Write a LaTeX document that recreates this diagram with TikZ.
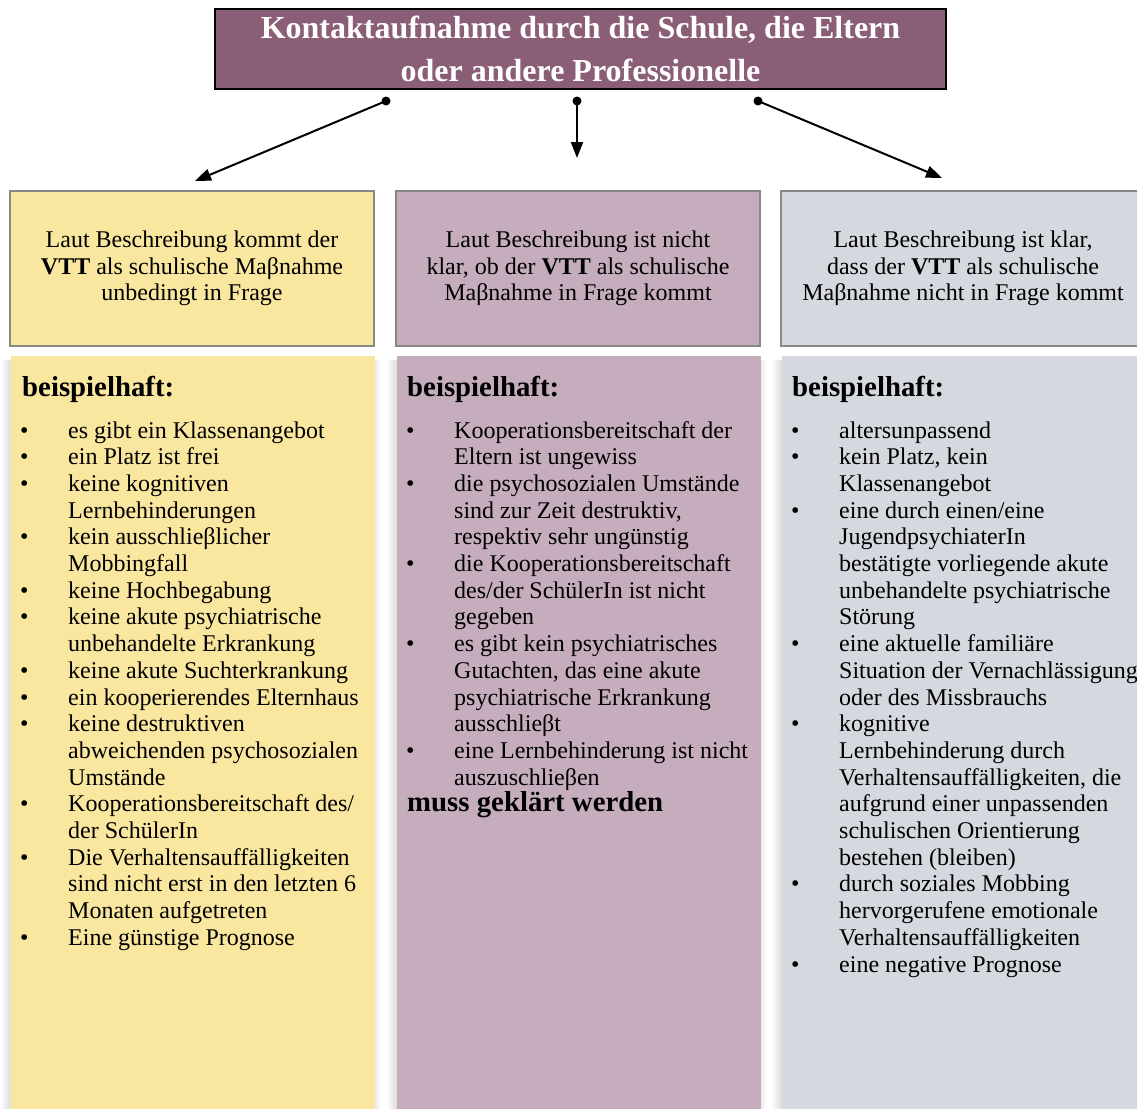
\documentclass[tikz,border=0pt]{standalone}
\usepackage{fontspec}
\setmainfont{Liberation Serif}
\usetikzlibrary{arrows.meta}
\definecolor{titlefill}{RGB}{139,94,120}
\definecolor{yelfill}{RGB}{249,231,159}
\definecolor{purfill}{RGB}{197,173,189}
\definecolor{grefill}{RGB}{214,216,224}
\definecolor{boxgray}{RGB}{136,136,136}
\newcommand\myitem[1]{\textbullet & #1\\}
\newcommand\mycont[1]{ & #1\\}
\begin{document}
\begin{tikzpicture}[x=1pt,y=-1pt,
  titlebox/.style={draw=black, line width=2pt, fill=titlefill, text=white,
    minimum width=731pt, minimum height=80pt, inner sep=0pt, align=center,
    font=\fontsize{32}{43}\selectfont\bfseries},
  upbox/.style={draw=boxgray, line width=2pt, minimum width=364pt, minimum height=155pt,
    inner sep=0pt, align=center, font=\fontsize{24}{26.7}\selectfont},
  sideshade/.style={left color=white, right color=black!14},
  dot/.style={circle, fill=black, inner sep=0pt, minimum size=9pt},
  conn/.style={line width=2pt, -{Triangle[length=16pt,width=12pt]}},
  head/.style={anchor=base west, inner sep=0pt, font=\fontsize{28.8}{30}\selectfont\bfseries},
  listtxt/.style={anchor=base west, inner sep=0pt, font=\fontsize{24}{26.7}\selectfont}
]
\useasboundingbox (0,0) rectangle (1137,1108);
\clip (0,0) rectangle (1137,1108);
\fill[white] (0,0) rectangle (1137,1108);

% title
\node[titlebox] (title) at (580.5,49) {Kontaktaufnahme durch die Schule, die Eltern\\oder andere Professionelle};

% dots and arrows
\node[dot] (d1) at (386,101) {};
\node[dot] (d2) at (577,101) {};
\node[dot] (d3) at (758,101) {};
\coordinate (t1) at (195,181);
\coordinate (t2) at (577,158);
\coordinate (t3) at (942,178);
\draw[conn] (d1.center) -- (t1);
\draw[conn] (d2.center) -- (t2);
\draw[conn] (d3.center) -- (t3);

% upper boxes
\node[upbox, fill=yelfill] (u1) at (192,268.5) {Laut Beschreibung kommt der\\\textbf{VTT} als schulische Maβnahme\\unbedingt in Frage};
\node[upbox, fill=purfill] (u2) at (578,268.5) {Laut Beschreibung ist nicht\\klar, ob der \textbf{VTT} als schulische\\Maβnahme in Frage kommt};
\node[upbox, fill=grefill] (u3) at (963,268.5) {Laut Beschreibung ist klar,\\dass der \textbf{VTT} als schulische\\Maβnahme nicht in Frage kommt};

% lower boxes with soft side shadows
\shade[sideshade] (0,360) rectangle (11,1108);
\shade[sideshade] (386,360) rectangle (397,1108);
\shade[sideshade] (771,360) rectangle (782,1108);
\shade[left color=black!8, right color=white] (375,360) rectangle (381,1108);
\shade[left color=black!8, right color=white] (761,360) rectangle (767,1108);
\fill[yelfill] (11,356) rectangle (375,1140);
\fill[purfill] (397,356) rectangle (761,1140);
\fill[grefill] (782,356) rectangle (1146,1140);

\node[head] (h1) at (22,396) {beispielhaft:};
\node[head] (h2) at (407,396) {beispielhaft:};
\node[head] (h3) at (792,396) {beispielhaft:};

\node[listtxt] (l1) at (20,438) {\begin{tabular}[t]{@{}p{48pt}@{}l@{}}
\myitem{es gibt ein Klassenangebot}
\myitem{ein Platz ist frei}
\myitem{keine kognitiven}
\mycont{Lernbehinderungen}
\myitem{kein ausschlieβlicher}
\mycont{Mobbingfall}
\myitem{keine Hochbegabung}
\myitem{keine akute psychiatrische}
\mycont{unbehandelte Erkrankung}
\myitem{keine akute Suchterkrankung}
\myitem{ein kooperierendes Elternhaus}
\myitem{keine destruktiven}
\mycont{abweichenden psychosozialen}
\mycont{Umstände}
\myitem{Kooperationsbereitschaft des/}
\mycont{der SchülerIn}
\myitem{Die Verhaltensauffälligkeiten}
\mycont{sind nicht erst in den letzten 6}
\mycont{Monaten aufgetreten}
\myitem{Eine günstige Prognose}
\end{tabular}};

\node[listtxt] (l2) at (406,438) {\begin{tabular}[t]{@{}p{48pt}@{}l@{}}
\myitem{Kooperationsbereitschaft der}
\mycont{Eltern ist ungewiss}
\myitem{die psychosozialen Umstände}
\mycont{sind zur Zeit destruktiv,}
\mycont{respektiv sehr ungünstig}
\myitem{die Kooperationsbereitschaft}
\mycont{des/der SchülerIn ist nicht}
\mycont{gegeben}
\myitem{es gibt kein psychiatrisches}
\mycont{Gutachten, das eine akute}
\mycont{psychiatrische Erkrankung}
\mycont{ausschlieβt}
\myitem{eine Lernbehinderung ist nicht}
\mycont{auszuschlieβen}
\end{tabular}};
\node[head] (m2) at (407,811) {muss geklärt werden};

\node[listtxt] (l3) at (791,438) {\begin{tabular}[t]{@{}p{48pt}@{}l@{}}
\myitem{altersunpassend}
\myitem{kein Platz, kein}
\mycont{Klassenangebot}
\myitem{eine durch einen/eine}
\mycont{JugendpsychiaterIn}
\mycont{bestätigte vorliegende akute}
\mycont{unbehandelte psychiatrische}
\mycont{Störung}
\myitem{eine aktuelle familiäre}
\mycont{Situation der Vernachlässigung}
\mycont{oder des Missbrauchs}
\myitem{kognitive}
\mycont{Lernbehinderung durch}
\mycont{Verhaltensauffälligkeiten, die}
\mycont{aufgrund einer unpassenden}
\mycont{schulischen Orientierung}
\mycont{bestehen (bleiben)}
\myitem{durch soziales Mobbing}
\mycont{hervorgerufene emotionale}
\mycont{Verhaltensauffälligkeiten}
\myitem{eine negative Prognose}
\end{tabular}};
\end{tikzpicture}
\end{document}
